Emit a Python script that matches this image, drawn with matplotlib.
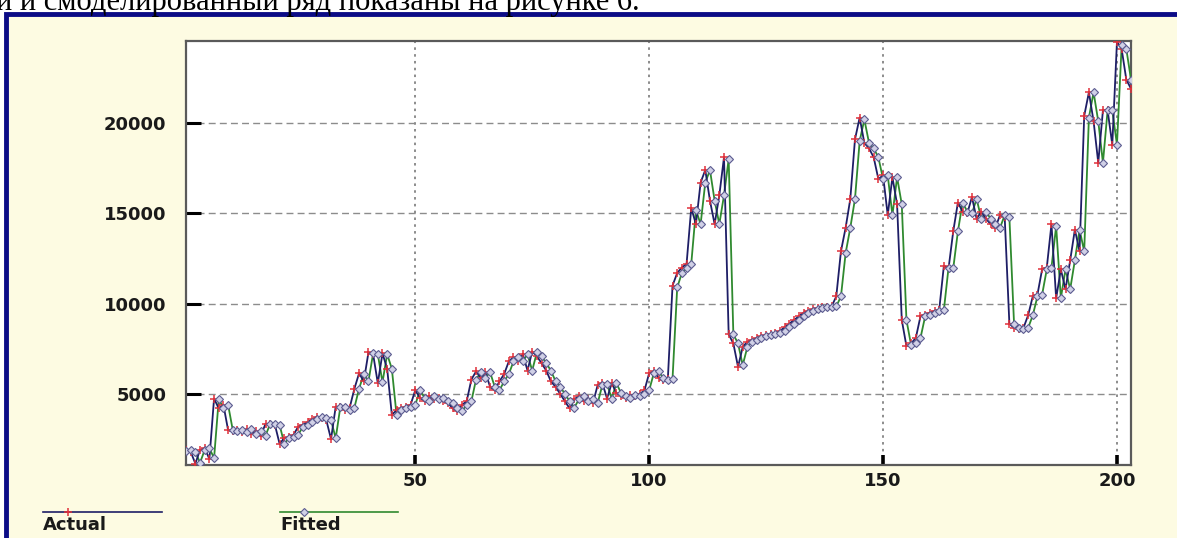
import numpy as np
import matplotlib
matplotlib.use("Agg")
import matplotlib.pyplot as plt
from matplotlib.lines import Line2D
from matplotlib.patches import Rectangle

# observed series
actual = [1900, 1800, 1150, 1900, 2000, 1400, 4750, 4200, 4400, 3000,
          2950, 3000, 2900, 3050, 2800, 2950, 2700, 3350, 3350, 3300,
          2250, 2550, 2600, 2750, 3200, 3300, 3450, 3600, 3750, 3650,
          3550, 2500, 4300, 4300, 4100, 4250, 5300, 6150, 5700, 7300,
          7200, 5600, 7250, 6400, 3850, 4100, 4200, 4300, 4400, 5200,
          4800, 4600, 4900, 4700, 4800, 4600, 4500, 4200, 4050, 4400,
          4600, 5800, 6250, 5900, 6200, 5400, 5200, 5700, 6100, 6800,
          7050, 6800, 7200, 6300, 7350, 7100, 6700, 6300, 5700, 5400,
          5000, 4600, 4200, 4700, 4900, 4600, 4700, 4500, 5500, 5600,
          4750, 5600, 5050, 4900, 4800, 4950, 4900, 5000, 5200, 6150,
          6250, 5900, 5800, 5850, 11000, 11700, 12000, 12200, 15300, 14400,
          16700, 17400, 15700, 14400, 16000, 18100, 8300, 7800, 6500, 7600,
          7900, 8000, 8100, 8200, 8250, 8300, 8350, 8500, 8700, 8900,
          9100, 9300, 9500, 9600, 9700, 9750, 9800, 9800, 9850, 10400,
          12900, 14200, 15800, 19100, 20300, 18900, 18600, 18100, 16900, 17100,
          14900, 17000, 15500, 9100, 7650, 7800, 8100, 9300, 9400, 9500,
          9600, 9650, 12100, 11950, 14000, 15600, 15100, 15000, 15900, 14700,
          15100, 14700, 14400, 14200, 14900, 14800, 8900, 8650, 8600, 8650,
          9350, 10400, 10500, 11900, 12000, 14400, 10300, 11900, 10800, 12400,
          14100, 12900, 20400, 21700, 20100, 17800, 20700, 20700, 18800, 24500,
          24100, 22400, 21900]

# model output
fitted = [1850, 1900, 1800, 1200, 1900, 2000, 1450, 4700, 4250, 4400,
          3000, 2950, 3000, 2900, 3050, 2800, 2950, 2700, 3350, 3350,
          3300, 2250, 2550, 2600, 2750, 3200, 3300, 3450, 3600, 3750,
          3650, 3550, 2550, 4300, 4300, 4100, 4250, 5300, 6100, 5700,
          7250, 7200, 5650, 7200, 6400, 3850, 4100, 4200, 4300, 4400,
          5200, 4800, 4600, 4900, 4700, 4800, 4600, 4500, 4200, 4050,
          4400, 4600, 5800, 6200, 5900, 6200, 5400, 5200, 5700, 6100,
          6800, 7050, 6800, 7200, 6300, 7300, 7100, 6700, 6300, 5700,
          5400, 5000, 4600, 4250, 4700, 4900, 4600, 4700, 4500, 5500,
          5550, 4750, 5600, 5050, 4900, 4800, 4950, 4900, 5000, 5200,
          6150, 6250, 5900, 5800, 5850, 10900, 11700, 12000, 12200, 15200,
          14400, 16700, 17400, 15700, 14400, 16000, 18000, 8300, 7800, 6600,
          7600, 7900, 8000, 8100, 8200, 8250, 8300, 8350, 8500, 8700,
          8900, 9100, 9300, 9500, 9600, 9700, 9750, 9800, 9800, 9850,
          10400, 12800, 14200, 15800, 19000, 20200, 18900, 18600, 18100, 16900,
          17100, 14900, 17000, 15500, 9100, 7700, 7800, 8100, 9300, 9400,
          9500, 9600, 9650, 12000, 11950, 14000, 15600, 15100, 15000, 15800,
          14700, 15100, 14700, 14400, 14200, 14900, 14800, 8900, 8650, 8600,
          8650, 9350, 10400, 10500, 11900, 12000, 14300, 10300, 11900, 10800,
          12400, 14100, 12900, 20300, 21700, 20100, 17800, 20700, 20700, 18800,
          24300, 24100, 22400]

obs = np.arange(1, len(actual) + 1)
x_ticks = [50, 100, 150, 200]
y_ticks = [5000, 10000, 15000, 20000]

W, H = 1177, 538
fig = plt.figure(figsize=(W / 100, H / 100), dpi=100)
fig.patch.set_facecolor("white")

def fx(px):
    return px / W

def fy(py):
    return 1 - py / H

# caption line above the chart window (cut off at the top)
fig.text(fx(-4), fy(10), "и и смоделированный ряд показаны на рисунке 6.",
         fontsize=22, family="Liberation Serif", color="black",
         ha="left", va="baseline")

# chart window: cream panel with dark blue border
fig.add_artist(Rectangle((fx(6), fy(H + 10)), fx(W + 20), fy(13.5) - fy(H + 10),
                         transform=fig.transFigure, facecolor="#fdfbe2",
                         edgecolor="#0c0c86", linewidth=3.5, zorder=0))

CNAVY = "#1e1e66"
CGREEN = "#2f8a2f"
LBL = dict(family="DejaVu Sans", fontweight="bold", fontsize=13, color="#1a1a1a")

ax = fig.add_axes([fx(186), fy(465), fx(1131) - fx(186), fy(41) - fy(465)])
ax.set_facecolor("white")

ax.plot(obs, fitted, color=CGREEN, lw=1.3, zorder=3)
ax.plot(obs, actual, color=CNAVY, lw=1.3, zorder=4)
ax.plot(obs, actual, ls="none", marker="+", ms=6, mew=1.1, color="#e0303a", zorder=5)
ax.plot(obs, fitted, ls="none", marker="D", ms=3.6, mew=0.8,
        markerfacecolor="#d0d0e6", markeredgecolor="#5c5c90", zorder=6)

ax.set_xlim(1, 203)
ax.set_ylim(1070, 24540)
ax.set_xticks(x_ticks)
ax.set_yticks(y_ticks)
ax.set_xticklabels([str(v) for v in x_ticks], **LBL)
ax.set_yticklabels([str(v) for v in y_ticks], **LBL)
ax.tick_params(axis="y", direction="in", length=11, width=2.2, color="black", pad=14)
ax.tick_params(axis="x", direction="in", length=7, width=2.6, color="black", pad=5)

for y in y_ticks:
    ax.axhline(y, color="#8c8c8c", lw=1.0, dashes=(5, 3), zorder=1)
for x in x_ticks:
    ax.axvline(x, color="#8c8c8c", lw=1.4, dashes=(1.3, 2.2), zorder=1)

for s in ax.spines.values():
    s.set_color("#5a5a5a")
    s.set_linewidth(1.6)

# legend strip below the axes
for x0, x1, mx, col, name, mk in [(43, 162, 68, CNAVY, "Actual", "+"),
                                  (280, 398, 304, CGREEN, "Fitted", "D")]:
    fig.add_artist(Line2D([fx(x0), fx(x1)], [fy(512), fy(512)],
                          transform=fig.transFigure, color=col, lw=1.2))
    if mk == "+":
        fig.add_artist(Line2D([fx(mx)], [fy(512)], transform=fig.transFigure,
                              marker="+", ms=6, mew=1.1, color="#e0303a", ls="none"))
    else:
        fig.add_artist(Line2D([fx(mx)], [fy(512)], transform=fig.transFigure,
                              marker="D", ms=3.6, mew=0.8, markerfacecolor="#d0d0e6",
                              markeredgecolor="#5c5c90", ls="none"))
    fig.text(fx(x0), fy(516), name, ha="left", va="top", **LBL)

fig.savefig("out.png", dpi=100)
